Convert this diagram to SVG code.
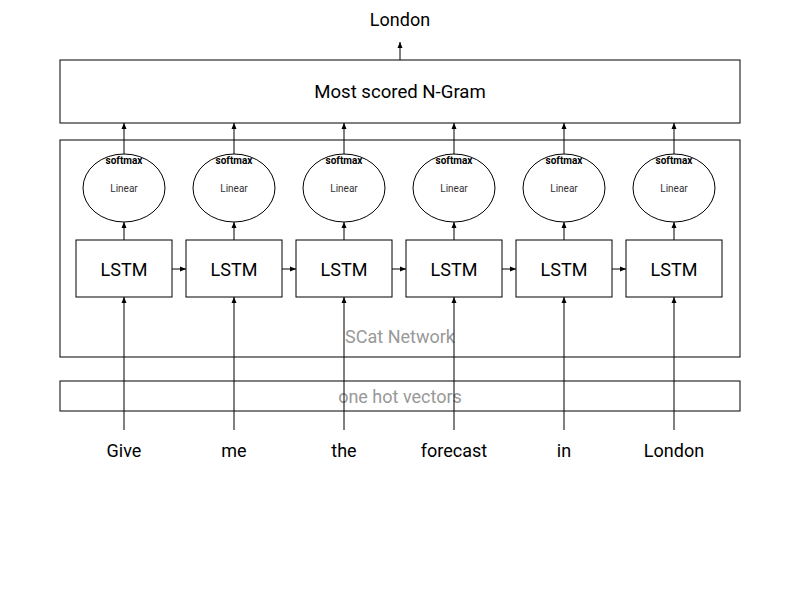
<svg xmlns="http://www.w3.org/2000/svg" width="800" height="600" viewBox="0 0 800 600">
<style>
.box{fill:none;stroke:#000;stroke-width:1}
.ell{fill:#fff;stroke:#000;stroke-width:1}
.ln{fill:none;stroke:#000;stroke-width:1;marker-end:url(#ah)}
text{font-family:Roboto,"Liberation Sans",sans-serif;text-anchor:middle;dominant-baseline:central;fill:#000}
.big{font-size:18px}
.ng{font-size:18.6px}
.word{font-size:18px}
.sm{font-size:10px;fill:#333}
.sf{font-size:10px;font-weight:bold}
.gray{font-size:18px;fill:#999}
</style>
<defs>
<marker id="ah" viewBox="0 0 6 6" refX="6" refY="3" markerWidth="6" markerHeight="6" orient="auto" markerUnits="userSpaceOnUse">
<path d="M0,0.5 L6,3 L0,5.5 z" fill="#000"/>
</marker>
</defs>
<rect width="800" height="600" fill="#fff"/>
<g id="output"><text class="big" x="400" y="19">London</text></g>
<g id="ngram"><rect class="box" x="60" y="60" width="680" height="63"/><text class="ng" x="400" y="92">Most scored N-Gram</text></g>
<g id="network"><rect class="box" x="60" y="140" width="680" height="217"/><text class="gray" x="400" y="336">SCat Network</text></g>
<g id="onehot"><rect class="box" x="60" y="381" width="680" height="30"/><text class="gray" x="400" y="396">one hot vectors</text></g>
<g id="connectors">
<path class="ln" d="M400,60 V42"/>
<path class="ln" d="M124,155 V123"/><path class="ln" d="M234,155 V123"/><path class="ln" d="M344,155 V123"/><path class="ln" d="M454,155 V123"/><path class="ln" d="M564,155 V123"/><path class="ln" d="M674,155 V123"/>
<path class="ln" d="M124,240 V222"/><path class="ln" d="M234,240 V222"/><path class="ln" d="M344,240 V222"/><path class="ln" d="M454,240 V222"/><path class="ln" d="M564,240 V222"/><path class="ln" d="M674,240 V222"/>
<path class="ln" d="M172,269 H186"/><path class="ln" d="M282,269 H296"/><path class="ln" d="M392,269 H406"/><path class="ln" d="M502,269 H516"/><path class="ln" d="M612,269 H626"/>
<path class="ln" d="M124,430 V297"/><path class="ln" d="M234,430 V297"/><path class="ln" d="M344,430 V297"/><path class="ln" d="M454,430 V297"/><path class="ln" d="M564,430 V297"/><path class="ln" d="M674,430 V297"/>
</g>
<g id="lin1"><ellipse class="ell" cx="124" cy="188" rx="41" ry="34"/><text class="sf" x="124" y="160">softmax</text><text class="sm" x="124" y="188">Linear</text></g>
<g id="lin2"><ellipse class="ell" cx="234" cy="188" rx="41" ry="34"/><text class="sf" x="234" y="160">softmax</text><text class="sm" x="234" y="188">Linear</text></g>
<g id="lin3"><ellipse class="ell" cx="344" cy="188" rx="41" ry="34"/><text class="sf" x="344" y="160">softmax</text><text class="sm" x="344" y="188">Linear</text></g>
<g id="lin4"><ellipse class="ell" cx="454" cy="188" rx="41" ry="34"/><text class="sf" x="454" y="160">softmax</text><text class="sm" x="454" y="188">Linear</text></g>
<g id="lin5"><ellipse class="ell" cx="564" cy="188" rx="41" ry="34"/><text class="sf" x="564" y="160">softmax</text><text class="sm" x="564" y="188">Linear</text></g>
<g id="lin6"><ellipse class="ell" cx="674" cy="188" rx="41" ry="34"/><text class="sf" x="674" y="160">softmax</text><text class="sm" x="674" y="188">Linear</text></g>
<g id="lstm1"><rect class="box" x="76" y="240" width="96" height="57"/><text class="big" x="124" y="269">LSTM</text></g>
<g id="lstm2"><rect class="box" x="186" y="240" width="96" height="57"/><text class="big" x="234" y="269">LSTM</text></g>
<g id="lstm3"><rect class="box" x="296" y="240" width="96" height="57"/><text class="big" x="344" y="269">LSTM</text></g>
<g id="lstm4"><rect class="box" x="406" y="240" width="96" height="57"/><text class="big" x="454" y="269">LSTM</text></g>
<g id="lstm5"><rect class="box" x="516" y="240" width="96" height="57"/><text class="big" x="564" y="269">LSTM</text></g>
<g id="lstm6"><rect class="box" x="626" y="240" width="96" height="57"/><text class="big" x="674" y="269">LSTM</text></g>
<g id="words">
<text class="word" x="124" y="450">Give</text><text class="word" x="234" y="450">me</text><text class="word" x="344" y="450">the</text><text class="word" x="454" y="450">forecast</text><text class="word" x="564" y="450">in</text><text class="word" x="674" y="450">London</text>
</g>
</svg>
